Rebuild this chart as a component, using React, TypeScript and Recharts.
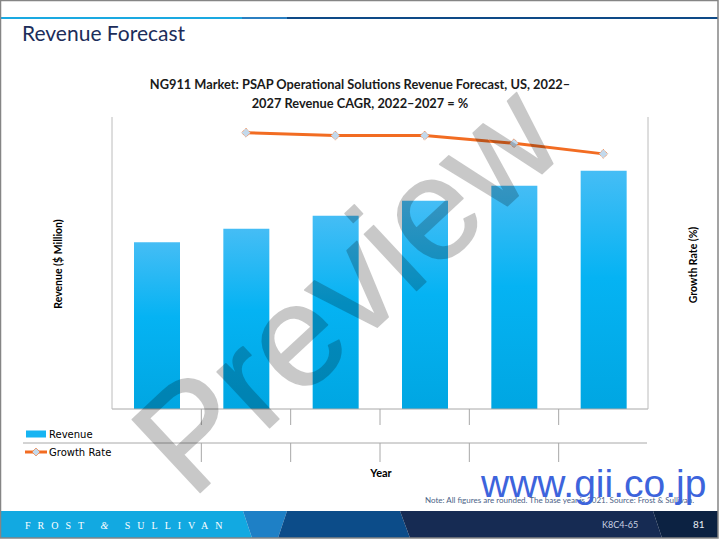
import React from 'react';
import { ComposedChart, Bar, Line, XAxis, YAxis, Legend } from 'recharts';

const categories = ['2022', '2023', '2024', '2025', '2026', '2027'];
const revenue = [4.0, 4.32, 4.63, 4.99, 5.35, 5.71];
const growthRate: (number | null)[] = [null, 7.57, 7.49, 7.49, 7.28, 6.99];
const leftTicks = [0, 1, 2, 3, 4, 5, 6, 7];
const rightTicks = [0, 1, 2, 3, 4, 5, 6, 7, 8];
const legendOrder = ['revenue', 'growth'];

const data = categories.map((year, i) => ({ year, revenue: revenue[i], growth: growthRate[i] }));

const AXIS_GRAY = '#bcbcbc';
const TABLE_GRAY = '#a8a8a8';
const ORANGE = '#f26c22';

const TableTick = (props: any) => {
  const { x, y, payload, index } = props;
  const off = payload && typeof payload.offset === 'number' ? payload.offset : 44.67;
  const bx = x - off;
  const count = categories.length;
  return (
    <g>
      {index === 0 && (
        <line x1={23} x2={bx + off * 2 * count - 1} y1={y + 34} y2={y + 34} stroke={TABLE_GRAY} strokeWidth={1} />
      )}
      {index > 0 && (
        <g>
          <line x1={bx} x2={bx} y1={y} y2={y + 16} stroke={TABLE_GRAY} strokeWidth={1} />
          <line x1={bx} x2={bx} y1={y + 34} y2={y + 53} stroke={TABLE_GRAY} strokeWidth={1} />
        </g>
      )}
    </g>
  );
};

const DiamondDot = (props: any) => {
  const { cx, cy, value } = props;
  if (cx == null || cy == null || value == null) return <g />;
  const r = 4.5;
  return (
    <polygon
      points={`${cx},${cy - r} ${cx + r},${cy} ${cx},${cy + r} ${cx - r},${cy}`}
      fill="#c3d9ec"
      stroke={ORANGE}
      strokeWidth={0.8}
      strokeDasharray="1 1"
    />
  );
};

const LegendContent = (props: any) => {
  const payload = [...(props.payload || [])].sort(
    (a: any, b: any) => legendOrder.indexOf(a.dataKey) - legendOrder.indexOf(b.dataKey)
  );
  return (
    <div style={{ fontFamily: '"DejaVu Sans", sans-serif', fontSize: 10, color: '#000' }}>
      {payload.map((p: any) => (
        <div key={p.value} style={{ display: 'flex', alignItems: 'center', height: 18 }}>
          {p.dataKey === 'revenue' ? (
            <svg width={24} height={10}>
              <rect x={2} y={1.5} width={20} height={7} fill="#17b4f2" />
            </svg>
          ) : (
            <svg width={24} height={10}>
              <line x1={1} x2={23} y1={5} y2={5} stroke={ORANGE} strokeWidth={3} />
              <polygon points="12,1 16,5 12,9 8,5" fill="#c3d9ec" stroke={ORANGE} strokeWidth={0.6} />
            </svg>
          )}
          <span style={{ marginLeft: 1 }}>{p.value}</span>
        </div>
      ))}
    </div>
  );
};

export default function App() {
  return (
    <div style={{ position: 'absolute', left: 0, top: 0, width: 720, height: 540, background: '#fff', overflow: 'hidden' }}>
      <ComposedChart
        width={720}
        height={540}
        data={data}
        margin={{ top: 117, right: 12, bottom: 101, left: 52 }}
        style={{ position: 'absolute', left: 0, top: 0 }}
      >
        <defs>
          <linearGradient id="barGrad" x1="0" y1="0" x2="0" y2="1">
            <stop offset="0%" stopColor="#45bdf5" />
            <stop offset="45%" stopColor="#05b3f3" />
            <stop offset="100%" stopColor="#00a6e2" />
          </linearGradient>
        </defs>
        <XAxis
          dataKey="year"
          height={30}
          tickLine={false}
          tickSize={0}
          tickMargin={0}
          interval={0}
          axisLine={{ stroke: TABLE_GRAY }}
          tick={<TableTick />}
        />
        <YAxis
          yAxisId="left"
          orientation="left"
          width={60}
          domain={[0, 7]}
          ticks={leftTicks}
          tick={false}
          tickSize={4}
          axisLine={{ stroke: AXIS_GRAY }}
          tickLine={{ stroke: AXIS_GRAY }}
        />
        <YAxis
          yAxisId="right"
          orientation="right"
          width={60}
          domain={[0, 8]}
          ticks={rightTicks}
          tick={false}
          tickSize={4}
          axisLine={{ stroke: AXIS_GRAY }}
          tickLine={{ stroke: AXIS_GRAY }}
        />
        <Legend
          layout="vertical"
          align="center"
          verticalAlign="middle"
          wrapperStyle={{ left: 24, top: 425, width: 130 }}
          content={<LegendContent />}
        />
        <Bar yAxisId="left" dataKey="revenue" name="Revenue" fill="url(#barGrad)" barSize={46} isAnimationActive={false} />
        <Line
          yAxisId="right"
          dataKey="growth"
          name="Growth Rate"
          stroke={ORANGE}
          strokeWidth={3}
          dot={<DiamondDot />}
          activeDot={false}
          connectNulls={false}
          isAnimationActive={false}
        />
      </ComposedChart>
      <svg width={720} height={540} style={{ position: 'absolute', left: 0, top: 0, pointerEvents: 'none' }}>
        {/* top rule */}
        <rect x={0} y={17} width={242} height={2} fill="#1aa9e1" />
        <rect x={242} y={17} width={45} height={2} fill="#2b7fc1" />
        <rect x={287} y={17} width={431} height={2} fill="#0e4a87" />
        <text x={22} y={41} fontFamily="Lato, sans-serif" fontSize={21} fill="#1c2d5a">Revenue Forecast</text>
        <text x={360} y={89} textAnchor="middle" fontFamily="Lato, sans-serif" fontWeight="bold" fontSize={12.8} fill="#1a1a1a">
          NG911 Market: PSAP Operational Solutions Revenue Forecast, US, 2022–
        </text>
        <text x={360} y={108} textAnchor="middle" fontFamily="Lato, sans-serif" fontWeight="bold" fontSize={12.8} fill="#1a1a1a">
          2027 Revenue CAGR, 2022–2027 = %
        </text>
        <text x={62} y={264} transform="rotate(-90 62 264)" textAnchor="middle" fontFamily="Lato, sans-serif" fontWeight="bold" fontSize={10.5} fill="#000">
          Revenue ($ Million)
        </text>
        <text x={697} y={265} transform="rotate(-90 697 265)" textAnchor="middle" fontFamily="Lato, sans-serif" fontWeight="bold" fontSize={10.5} fill="#000">
          Growth Rate (%)
        </text>
        <text x={381} y={477} textAnchor="middle" fontFamily="Lato, sans-serif" fontWeight="bold" fontSize={11} fill="#000">Year</text>
        <text x={425} y={503} fontFamily="Lato, sans-serif" fontSize={8} fill="#4b5f86">
          Note: All figures are rounded. The base year is 2021. Source: Frost &amp; Sullivan.
        </text>
        {/* footer */}
        <polygon points="0,511 243,511 252,538 0,538" fill="#12a9e1" />
        <polygon points="243,511 287,511 278,538 252,538" fill="#1e80c6" />
        <polygon points="287,511 400,511 410,538 278,538" fill="#0c4c89" />
        <polygon points="400,511 653,511 662,538 410,538" fill="#162b53" />
        <polygon points="653,511 718,511 718,538 662,538" fill="#0c2242" />
        <text x={25} y={529} fontFamily="'Liberation Serif', serif" fontSize={10} letterSpacing={7} fill="#fff">
          FROST <tspan fontStyle="italic">&amp;</tspan> SULLIVAN
        </text>
        <text x={602} y={528} fontFamily="Lato, sans-serif" fontSize={9} fill="#c9d1e2">K8C4-65</text>
        <text x={693} y={528} fontFamily="Lato, sans-serif" fontSize={10} fill="#e8ecf4">81</text>
        {/* border */}
        <rect x={0.5} y={0.5} width={717.5} height={537.5} fill="none" stroke="#858585" strokeWidth={1.5} />
        {/* watermarks */}
        <g opacity={0.21}>
          <text
            x={346}
            y={338}
            transform="rotate(-43 346 288)"
            textAnchor="middle"
            fontFamily="'Liberation Sans', Arial, sans-serif"
            fontSize={145}
            fill="#000"
            stroke="#000"
            strokeWidth={1.5}
            strokeLinejoin="round"
          >
            Preview
          </text>
        </g>
        <text x={481} y={497} fontFamily="'Liberation Sans', Arial, sans-serif" fontSize={39} fill="#3d64dc">www.gii.co.jp</text>
      </svg>
    </div>
  );
}
